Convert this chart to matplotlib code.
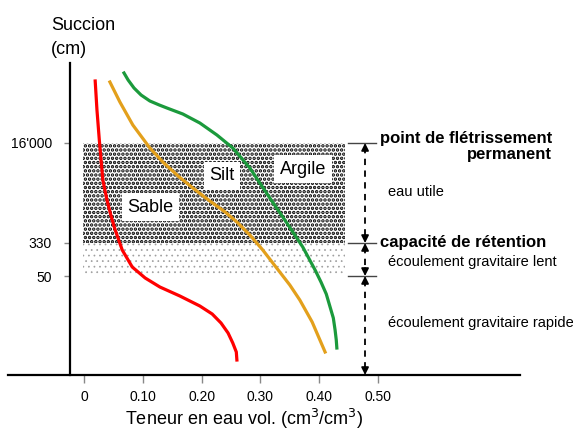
import matplotlib
matplotlib.use('Agg')
import matplotlib.pyplot as plt
from matplotlib.patches import Rectangle

plt.rcParams['font.family'] = ['Liberation Sans', 'DejaVu Sans']

# courbes de rétention (teneur en eau vs position sur l'axe de succion)
sable_x = [0.019, 0.022, 0.026, 0.029, 0.032, 0.039, 0.046, 0.053, 0.065, 0.082,
           0.104, 0.129, 0.163, 0.197, 0.218, 0.233, 0.245, 0.253, 0.259, 0.260]
sable_y = [294, 265, 235, 215, 195, 175, 159, 145, 125, 108,
           97, 88, 79, 69, 61, 52, 42, 32, 23, 15]
silt_x = [0.044, 0.061, 0.083, 0.112, 0.134, 0.160, 0.185, 0.214, 0.240,
          0.260, 0.282, 0.304, 0.325, 0.350, 0.367, 0.388, 0.410]
silt_y = [293, 273, 250, 227, 213, 199, 187, 174, 163,
          153, 140, 125, 109, 90, 75, 53, 23]
argile_x = [0.068, 0.075, 0.085, 0.097, 0.112, 0.128, 0.141, 0.168, 0.197,
            0.226, 0.253, 0.282, 0.316, 0.345, 0.372, 0.393, 0.403, 0.412,
            0.418, 0.424, 0.427, 0.429, 0.430]
argile_y = [302, 295, 287, 280, 274, 270, 267, 261, 252,
            240, 227, 207, 177, 152, 128, 105, 93, 81,
            69, 57, 45, 35, 27]

y_ticks = [232, 132, 99]
y_ticklabels = ["16'000", '330', '50']
x_ticks = [0, 0.1, 0.2, 0.3, 0.4, 0.5]
x_ticklabels = ['0', '0.10', '0.20', '0.30', '0.40', '0.50']

fig = plt.figure(figsize=(5.73, 4.32), dpi=100)
ax = fig.add_axes([8 / 573, 57 / 432, 512 / 573, 312 / 432])
ax.set_xlim(-0.1293, 0.7415)
ax.set_ylim(0, 312)

for s in ['top', 'right']:
    ax.spines[s].set_visible(False)
ax.spines['left'].set_position(('data', -0.0238))
ax.spines['left'].set_linewidth(1.6)
ax.spines['bottom'].set_linewidth(1.6)

ax.set_xticks(x_ticks, x_ticklabels)
ax.set_yticks(y_ticks, y_ticklabels)
ax.tick_params(axis='x', direction='out', length=6, width=1, color='#888888',
               pad=5, labelsize=10)
ax.tick_params(axis='y', direction='out', length=4, width=1, color='#888888',
               pad=9, labelsize=10)

# zones pointillées
plt.rcParams['hatch.linewidth'] = 1.7
x0, x1 = -0.002, 0.444
ax.add_patch(Rectangle((x0, y_ticks[1]), x1 - x0, y_ticks[0] - y_ticks[1],
                       facecolor='white', edgecolor='black', hatch='....',
                       linewidth=0, zorder=1))
plt.rcParams['hatch.linewidth'] = 0.5
ax.add_patch(Rectangle((x0, y_ticks[2]), x1 - x0, y_ticks[1] - y_ticks[2],
                       facecolor='white', edgecolor='#9e9e9e', hatch='...',
                       linewidth=0, zorder=1))

box = dict(facecolor='white', edgecolor='none', pad=4)
ax.text(0.113, 168, 'Sable', fontsize=13, ha='center', va='center', bbox=box, zorder=2)
ax.text(0.235, 199, 'Silt', fontsize=13, ha='center', va='center', bbox=box, zorder=2)
ax.text(0.372, 206, 'Argile', fontsize=13, ha='center', va='center', bbox=box, zorder=2)

ax.plot(sable_x, sable_y, color='#ff0000', lw=2.3, zorder=3, solid_joinstyle='round')
ax.plot(silt_x, silt_y, color='#e3a01c', lw=2.3, zorder=3, solid_joinstyle='round')
ax.plot(argile_x, argile_y, color='#1b9a3c', lw=2.3, zorder=3, solid_joinstyle='round')

# repères à droite
for y in y_ticks:
    ax.plot([0.449, 0.497], [y, y], color='#444444', lw=1)

xa = 0.478
levels = y_ticks + [0]
for top, bot in zip(levels[:-1], levels[1:]):
    ax.plot([xa, xa], [top - 4, bot + 4], color='black', lw=1.3,
            ls=(0, (3.5, 3)))
    ax.annotate('', xy=(xa, top), xytext=(xa, top - 8),
                arrowprops=dict(arrowstyle='-|>', color='black', lw=1.2,
                                shrinkA=0, shrinkB=0, mutation_scale=11))
    ax.annotate('', xy=(xa, bot), xytext=(xa, bot + 8),
                arrowprops=dict(arrowstyle='-|>', color='black', lw=1.2,
                                shrinkA=0, shrinkB=0, mutation_scale=11))

ax.text(0.796, 228.5, 'point de flétrissement\npermanent', fontsize=12,
        fontweight='bold', ha='right', va='center', multialignment='right',
        linespacing=1.05)
ax.text(0.503, 133, 'capacité de rétention', fontsize=12, fontweight='bold',
        ha='left', va='center')
ax.text(0.517, 183, 'eau utile', fontsize=10.5, ha='left', va='center')
ax.text(0.517, 113, 'écoulement gravitaire lent', fontsize=10.5, ha='left', va='center')
ax.text(0.517, 52, 'écoulement gravitaire rapide', fontsize=10.5, ha='left', va='center')

ax.set_xlabel('Teneur en eau vol. (cm$^3$/cm$^3$)', fontsize=13)
ax.xaxis.set_label_coords(0.461, -0.14)
ax.xaxis.label.set_va('center')

fig.text(51 / 573, 1 - 25 / 432, 'Succion', fontsize=13, ha='left', va='center')
fig.text(51 / 573, 1 - 50 / 432, '(cm)', fontsize=13, ha='left', va='center')

fig.savefig('out.png', dpi=100)
